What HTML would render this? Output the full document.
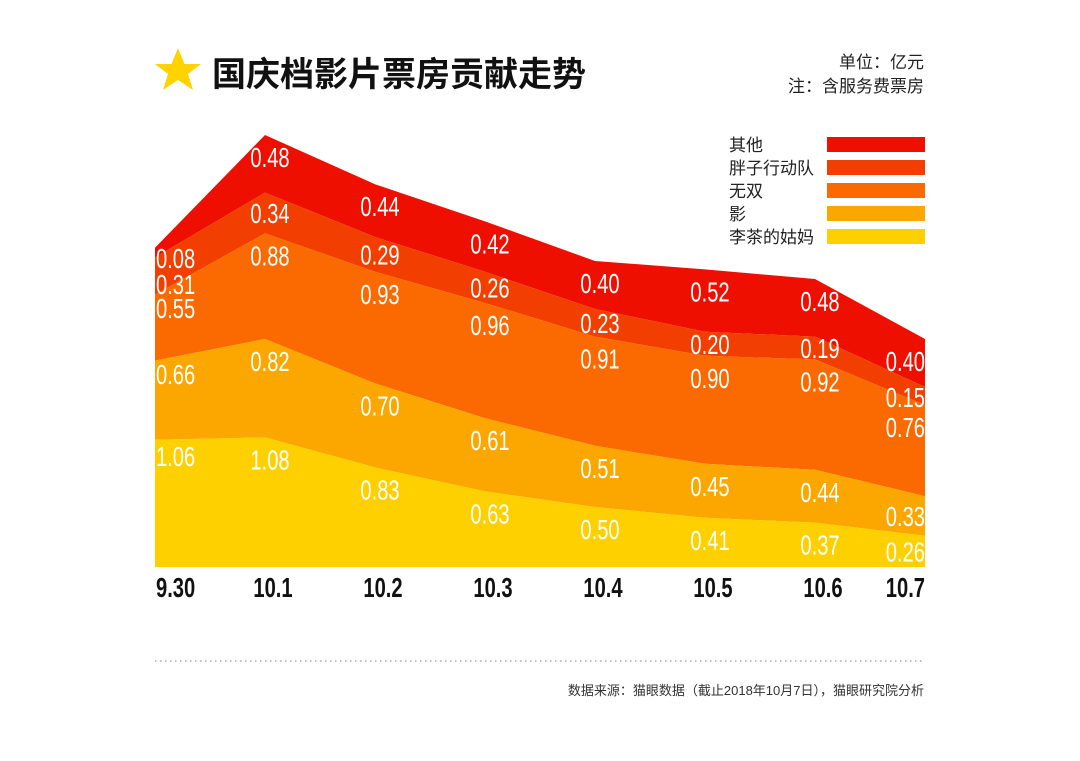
<!DOCTYPE html>
<html><head><meta charset="utf-8">
<style>
body{margin:0;background:#fff;width:1080px;height:756px;overflow:hidden;font-family:"Liberation Sans","Noto Sans CJK SC",sans-serif}
</style></head>
<body>
<svg id="chart" width="1080" height="756" xmlns="http://www.w3.org/2000/svg">
<polygon points="178,48 184.5,64 201,64 188,74 193,90 178,80 163,90 168,74 155,64 171.5,64" fill="#FFD200"/>
<text x="212" y="86" font-size="34" font-weight="bold" fill="#111" font-family="'Liberation Sans','Noto Sans CJK SC',sans-serif">国庆档影片票房贡献走势</text>
<text x="924" y="68" text-anchor="end" font-size="17" fill="#222">单位：亿元</text>
<text x="924" y="92" text-anchor="end" font-size="17" fill="#222">注：含服务费票房</text>
<g id="areas"></g>
<g id="labels"></g>
<g id="xaxis"></g>
<g id="legend"></g>
<line x1="155" y1="661" x2="925" y2="661" stroke="#999" stroke-width="1.3" stroke-dasharray="1.5,3.5"/>
<text x="924" y="695" text-anchor="end" font-size="13" fill="#333">数据来源：猫眼数据（截止2018年10月7日），猫眼研究院分析</text>
</svg>
<script>
const categories=["9.30","10.1","10.2","10.3","10.4","10.5","10.6","10.7"];
const seriesNames=["李茶的姑妈","影","无双","胖子行动队","其他"];
const liCha=[1.06,1.08,0.83,0.63,0.50,0.41,0.37,0.26];
const ying=[0.66,0.82,0.70,0.61,0.51,0.45,0.44,0.33];
const wuShuang=[0.55,0.88,0.93,0.96,0.91,0.90,0.92,0.76];
const pangZi=[0.31,0.34,0.29,0.26,0.23,0.20,0.19,0.15];
const qiTa=[0.08,0.48,0.44,0.42,0.40,0.52,0.48,0.40];
const series=[liCha,ying,wuShuang,pangZi,qiTa];
const colors=["#FFD000","#FBA700","#FA6A00","#F23F00","#EE0F00"];
const NS="http://www.w3.org/2000/svg";
const x0=155,x1=925,yBase=567,unit=120;
const xs=i=>x0+i*(x1-x0)/(categories.length-1);
const ys=v=>yBase-v*unit;
const cum=[];let acc=categories.map(()=>0);
series.forEach(s=>{const lo=acc.slice();acc=acc.map((a,i)=>a+s[i]);cum.push([lo,acc.slice()]);});
const areas=document.getElementById('areas'),labels=document.getElementById('labels');
for(let k=series.length-1;k>=0;k--){
  const [lo,hi]=cum[k];
  const pts=hi.map((v,i)=>xs(i)+','+ys(v)).concat(lo.map((v,i)=>xs(i)+','+ys(v)).reverse());
  const p=document.createElementNS(NS,'polygon');
  p.setAttribute('points',pts.join(' '));p.setAttribute('fill',colors[k]);
  
  
  areas.appendChild(p);
}
function ctext(parent,x,y,str,anchor,fill,size,weight){
  const t=document.createElementNS(NS,'text');
  t.setAttribute('transform','translate('+x+','+y+') scale(0.72,1)');
  t.setAttribute('text-anchor',anchor);t.setAttribute('fill',fill);
  t.setAttribute('font-size',size);if(weight)t.setAttribute('font-weight',weight);
  t.setAttribute('font-family',"'Liberation Sans Narrow','Liberation Sans',sans-serif");
  t.textContent=str;parent.appendChild(t);return t;
}
series.forEach((s,k)=>{
  s.forEach((v,i)=>{
    const top=ys(cum[k][1][i]);
    const h=s[i]*unit;
    let x=xs(i)+5,anc='middle';
    if(i===0){x=x0+1;anc='start';}
    if(i===categories.length-1){x=x1;anc='end';}
    let y=top+Math.min(32,Math.max(20,h*0.5+10));
    if(i===0){y=[466,384,318,294,268][k];}
    const t=ctext(labels,x,y,v.toFixed(2),anc,'#fff',28);
    
    
  });
});
const xa=document.getElementById('xaxis');
categories.forEach((c,i)=>{
  let x=xs(i)+8,anc='middle';
  if(i===0){x=x0+1;anc='start';}
  if(i===categories.length-1){x=x1;anc='end';}
  const t=ctext(xa,x,597,c,anc,'#111',28,'bold');
  
  
});
const lg=document.getElementById('legend');
const legOrder=[4,3,2,1,0];
legOrder.forEach((k,j)=>{
  const y=137+j*23;
  const r=document.createElementNS(NS,'rect');
  r.setAttribute('x',827);r.setAttribute('y',y);r.setAttribute('width',98);r.setAttribute('height',15);r.setAttribute('fill',colors[k]);
  
  
  lg.appendChild(r);
  const t=document.createElementNS(NS,'text');
  t.setAttribute('x',729);t.setAttribute('y',y+14);t.setAttribute('font-size',17);t.setAttribute('fill','#222');
  t.textContent=seriesNames[k];
  
  
  lg.appendChild(t);
});
</script>
</body></html>
